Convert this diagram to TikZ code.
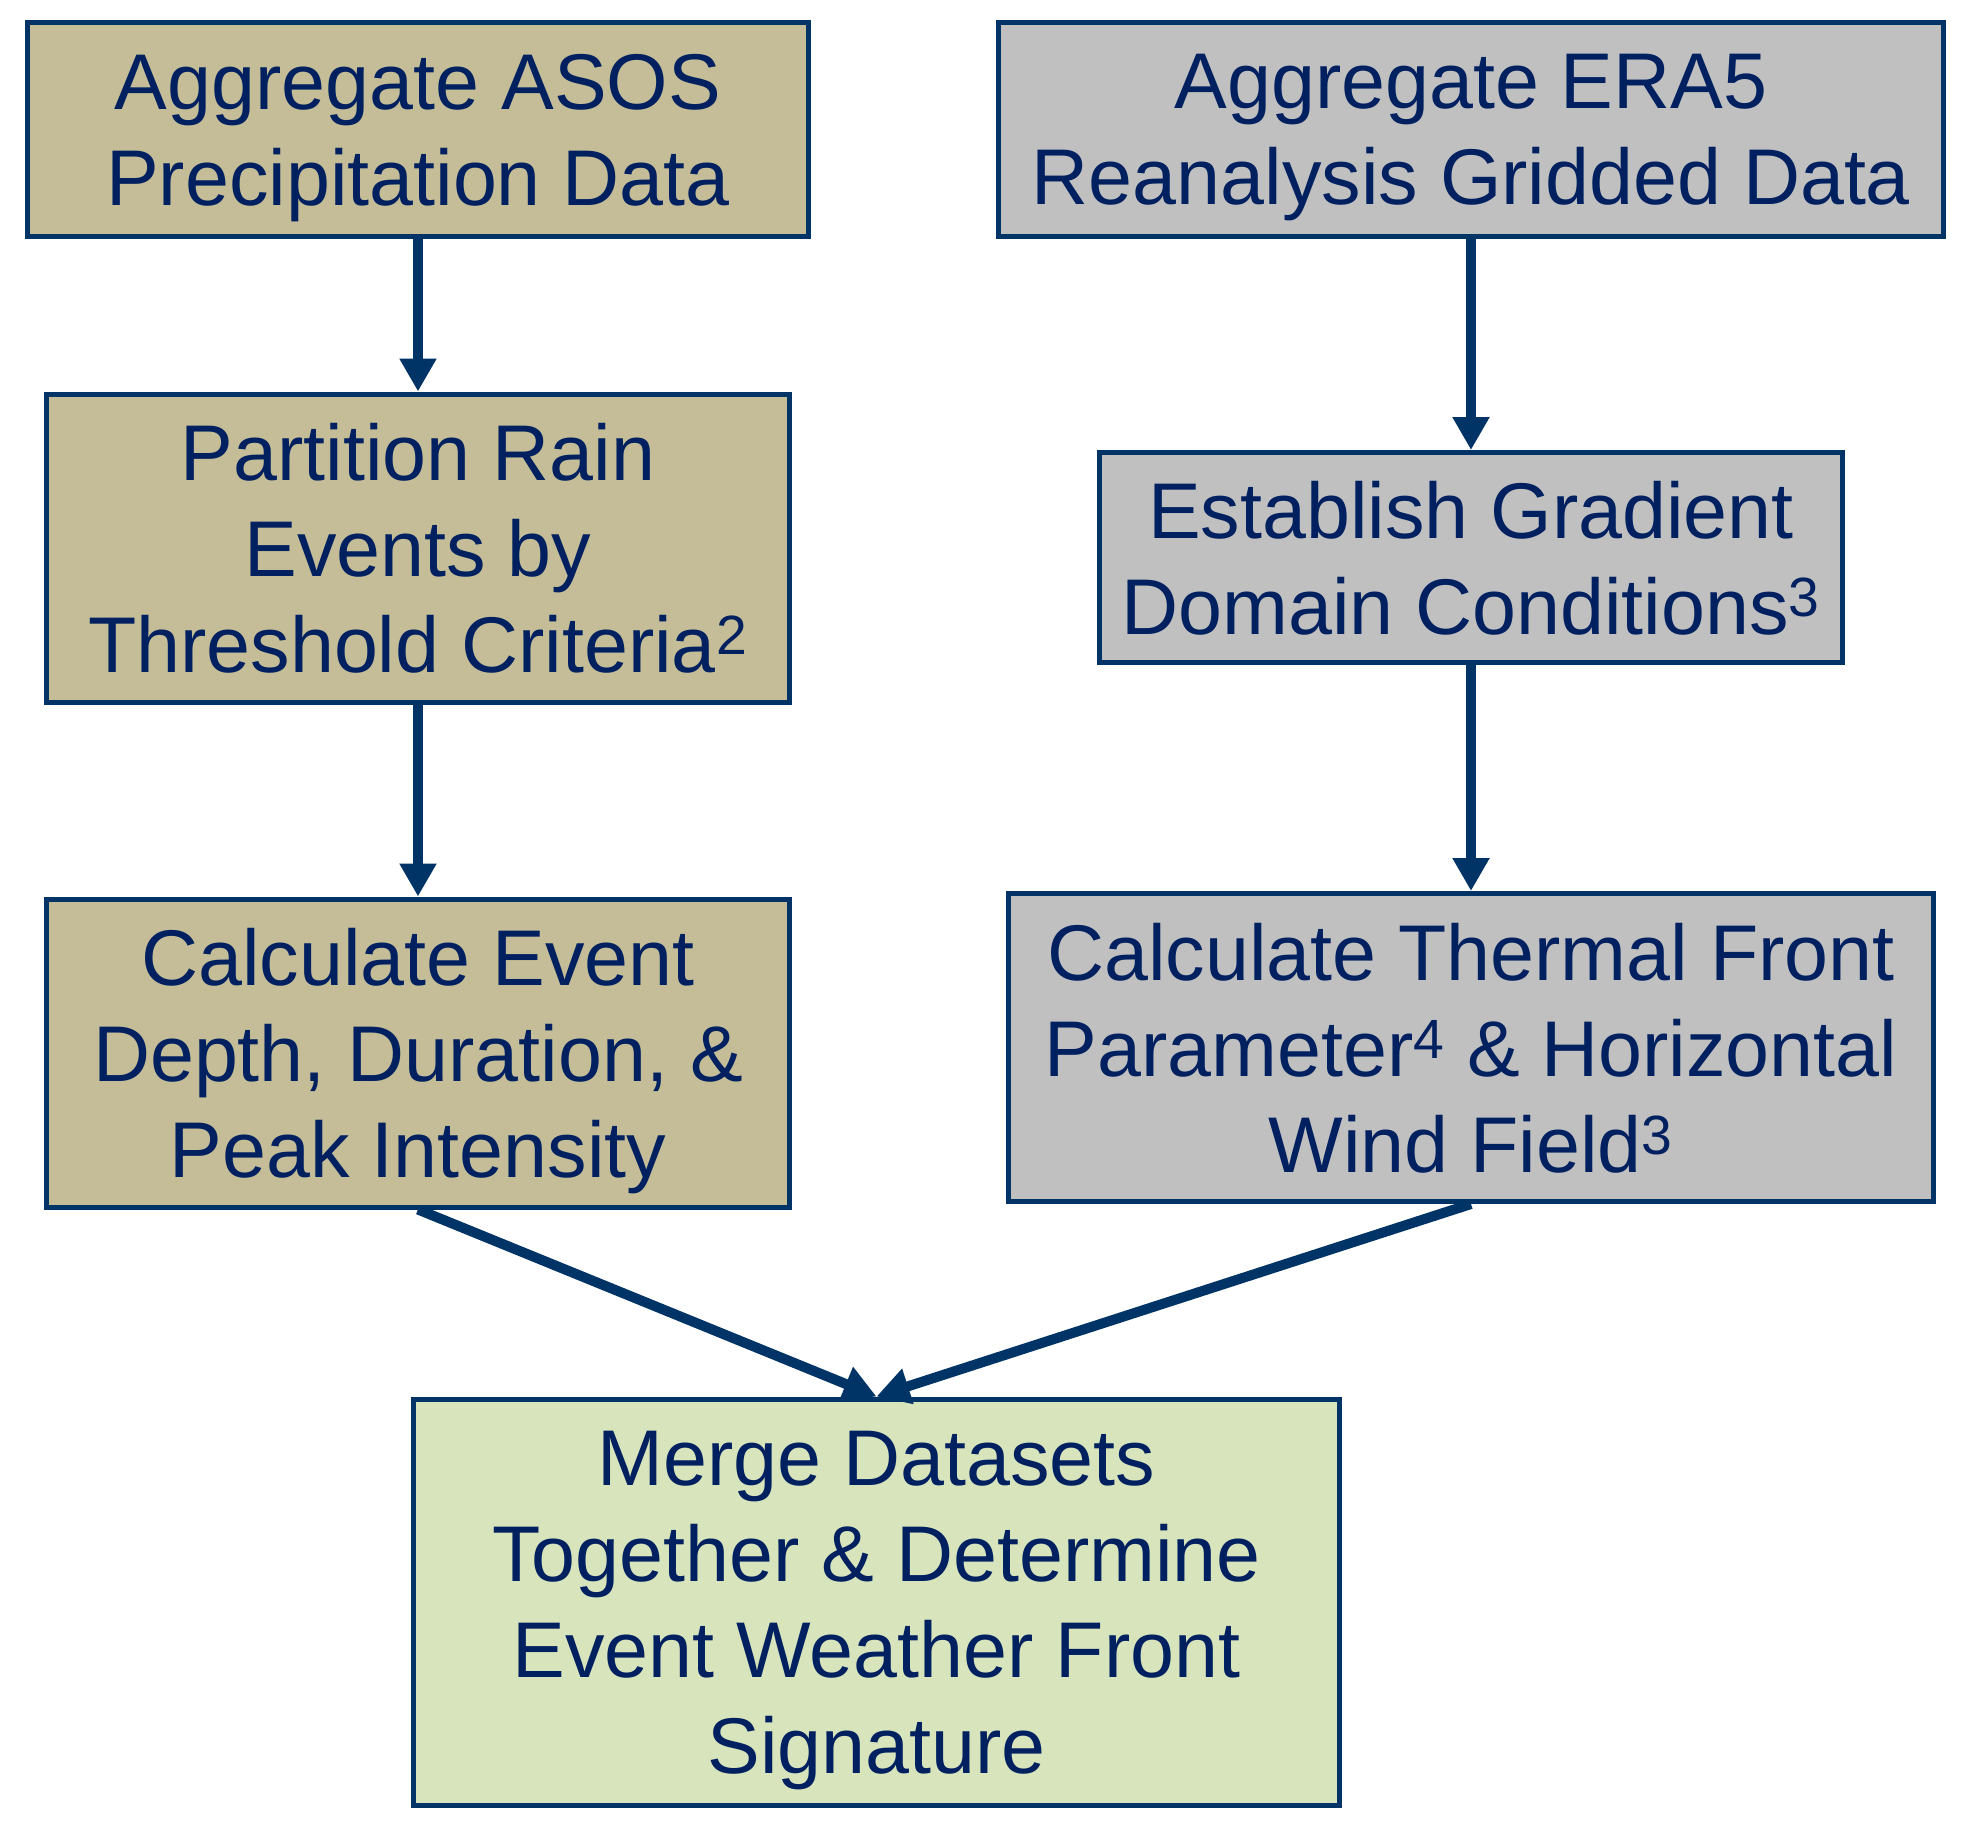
\documentclass[tikz,border=0pt]{standalone}
\usepackage{fontspec}
\setmainfont{Liberation Sans}
\usepackage{xcolor}
\usetikzlibrary{shapes,arrows.meta,positioning,calc}

\definecolor{navyline}{RGB}{0,51,102}
\definecolor{navytext}{RGB}{0,32,96}
\definecolor{asostan}{RGB}{196,189,151}
\definecolor{eragrey}{RGB}{192,192,192}
\definecolor{mergegreen}{RGB}{216,228,188}

\begin{document}
\begin{tikzpicture}[
    node distance=78bp and 92.5bp,
    base/.style={rectangle, draw=navyline, line width=2.5bp, align=center, text=navytext, inner sep=0pt, text depth=0pt, font=\fontsize{39.5bp}{48bp}\selectfont},
    box1/.style={base, fill=asostan},
    box2/.style={base, fill=eragrey},
    box3/.style={base, fill=mergegreen},
    arrow/.style={-{Triangle[length=16.5bp,width=17.5bp]}, line width=5bp, draw=navyline}
]
    \useasboundingbox (-209bp,64.75bp) rectangle (777bp,-846.25bp);

    % station data column
    \node [box1, minimum width=390.5bp, minimum height=106.5bp] (n1) at (0,0) {Aggregate ASOS\\Precipitation Data};
    \node [box1, minimum width=371bp, minimum height=154bp, below=76.5bp of n1] (n3) {Partition Rain\\Events by\\Threshold Criteria\textsuperscript{2}};
    \node [box1, minimum width=371bp, minimum height=154bp, below=96bp of n3] (n5) {Calculate Event\\Depth, Duration, \&\\Peak Intensity};

    % reanalysis column
    \node [box2, minimum width=472.5bp, minimum height=107bp, right=of n1] (n2) {Aggregate ERA5\\Reanalysis Gridded Data};
    \node [box2, minimum width=371.5bp, minimum height=105bp, below=105.5bp of n2] (n4) {Establish Gradient\\Domain Conditions\textsuperscript{3}};
    \node [box2, minimum width=462.5bp, minimum height=154bp, below=113bp of n4] (n6) {Calculate Thermal Front\\Parameter\textsuperscript{4} \& Horizontal\\Wind Field\textsuperscript{3}};

    % merged result
    \node [box3, minimum width=462.5bp, minimum height=203bp, below=93.5bp of n5, xshift=229.25bp] (n7) {Merge Datasets\\Together \& Determine\\Event Weather Front\\Signature};

    \draw [arrow] (n1) -- (n3);
    \draw [arrow] (n3) -- (n5);
    \draw [arrow] (n2) -- (n4);
    \draw [arrow] (n4) -- (n6);
    \draw [arrow] (n5.south) -- (n7.north);
    \draw [arrow] (n6.south) -- (n7.north);
\end{tikzpicture}
\end{document}
